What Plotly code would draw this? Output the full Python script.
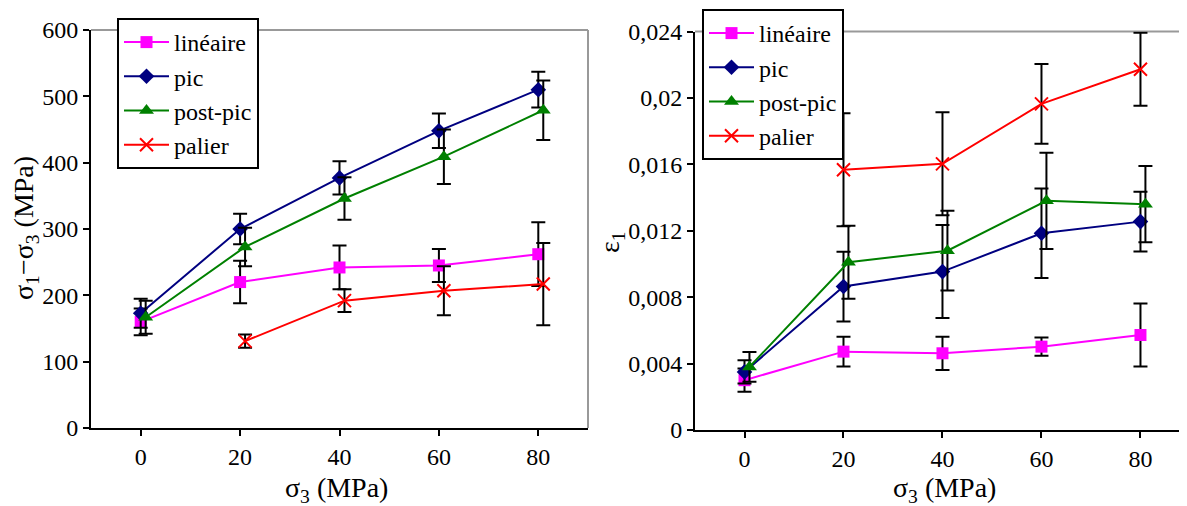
import plotly.graph_objects as go

# ---------------- data ----------------
series_names = ["linéaire", "pic", "post-pic", "palier"]

# Left chart: sigma1 - sigma3 (MPa) vs sigma3 (MPa)
L_lin_x = [0, 20, 40, 60, 80]
L_lin_y = [160, 220, 242, 245, 262]
L_lin_e = [20, 32, 33, 25, 48]

L_pic_x = [0, 20, 40, 60, 80]
L_pic_y = [173, 300, 377, 448, 510]
L_pic_e = [22, 23, 25, 26, 27]

L_post_x = [1, 21, 41, 61, 81]
L_post_y = [167, 273, 346, 409, 479]
L_post_e = [25, 29, 32, 41, 45]

L_pal_x = [21, 41, 61, 81]
L_pal_y = [131, 192, 207, 217]
L_pal_e = [10, 17, 37, 62]

# Right chart: epsilon1 vs sigma3 (MPa)
R_lin_x = [0, 20, 40, 60, 80]
R_lin_y = [0.0030, 0.00472, 0.00462, 0.00502, 0.00572]
R_lin_e = [0.0007, 0.0009, 0.0010, 0.00055, 0.0019]

R_pic_x = [0, 20, 40, 60, 80]
R_pic_y = [0.0035, 0.00864, 0.00954, 0.01185, 0.01255]
R_pic_e = [0.0007, 0.0021, 0.0028, 0.0027, 0.0018]

R_post_x = [1, 21, 41, 61, 81]
R_post_y = [0.0038, 0.0101, 0.0108, 0.0138, 0.0136]
R_post_e = [0.0009, 0.0022, 0.0024, 0.0029, 0.0023]

R_pal_x = [20, 40, 60, 80]
R_pal_y = [0.01567, 0.01603, 0.01964, 0.02173]
R_pal_e = [0.0034, 0.0031, 0.0024, 0.0022]

x_ticks = [0, 20, 40, 60, 80]
L_y_ticks = [0, 100, 200, 300, 400, 500, 600]
R_y_ticks = [0, 0.004, 0.008, 0.012, 0.016, 0.02, 0.024]
R_y_ticktext = ["0", "0,004", "0,008", "0,012", "0,016", "0,02", "0,024"]

# ---------------- styling ----------------
FONT = "Liberation Serif"
colors = ["#FF00FF", "#000080", "#008000", "#FF0000"]
symbols = ["square", "diamond", "triangle-up", "x-thin"]
sizes = [12, 12, 13, 13]

fig = go.Figure()

left_data = [(L_lin_x, L_lin_y, L_lin_e), (L_pic_x, L_pic_y, L_pic_e),
             (L_post_x, L_post_y, L_post_e), (L_pal_x, L_pal_y, L_pal_e)]
right_data = [(R_lin_x, R_lin_y, R_lin_e), (R_pic_x, R_pic_y, R_pic_e),
              (R_post_x, R_post_y, R_post_e), (R_pal_x, R_pal_y, R_pal_e)]


def add(data, xa, ya, legend):
    for i, (xs, ys, es) in enumerate(data):
        marker = dict(symbol=symbols[i], size=sizes[i], color=colors[i])
        if symbols[i] == "x-thin":
            marker["line"] = dict(color=colors[i], width=2)
        fig.add_trace(go.Scatter(
            x=xs, y=ys, mode="lines+markers", name=series_names[i],
            line=dict(color=colors[i], width=2), marker=marker,
            error_y=dict(type="data", array=es, visible=True, color="black",
                         thickness=2, width=7),
            xaxis=xa, yaxis=ya, legend=legend))


add(left_data, "x", "y", "legend")
add(right_data, "x2", "y2", "legend2")

# the page body adds an 8px offset: figure is sized so it fills the window
OFF = 8
W, H = 1187 - OFF, 506 - OFF


def px(x):
    return (x - OFF) / W


def py(y):
    return (H - (y - OFF)) / H


Lx0, Lx1 = px(91), px(588)
Ly0, Ly1 = py(428), py(30)
Rx0, Rx1 = px(695), 1.0
Ry0, Ry1 = py(430), py(31.5)

axis_common = dict(showline=True, linecolor="black", linewidth=2, ticks="outside",
                   tickcolor="black", tickwidth=2, ticklen=6, showgrid=False,
                   zeroline=False, automargin=False,
                   tickfont=dict(family=FONT, size=24, color="black"))

legend_common = dict(xanchor="left", yanchor="top", bgcolor="white",
                     bordercolor="black", borderwidth=2, itemwidth=45,
                     font=dict(family=FONT, size=24, color="black"), tracegroupgap=0)

fig.update_layout(
    width=W, height=H,
    margin=dict(l=0, r=0, t=0, b=0, autoexpand=False),
    paper_bgcolor="white", plot_bgcolor="white",
    font=dict(family=FONT, color="black"),
    xaxis=dict(domain=[Lx0, Lx1], anchor="y", range=[-10, 90], tickvals=x_ticks, **axis_common),
    yaxis=dict(domain=[Ly0, Ly1], anchor="x", range=[0, 600], tickvals=L_y_ticks, **axis_common),
    xaxis2=dict(domain=[Rx0, Rx1], anchor="y2", range=[-10, 89.4], tickvals=x_ticks, **axis_common),
    yaxis2=dict(domain=[Ry0, Ry1], anchor="x2", range=[0, 0.024], tickvals=R_y_ticks,
                ticktext=R_y_ticktext, **axis_common),
    legend=dict(x=px(117), y=py(18), **legend_common),
    legend2=dict(x=px(702), y=py(9), **legend_common),
    showlegend=True,
)

# gray top/right frame lines
fig.add_shape(type="line", xref="x domain", yref="y domain", x0=0, x1=1, y0=1, y1=1,
              line=dict(color="#999999", width=2), layer="below")
fig.add_shape(type="line", xref="x domain", yref="y domain", x0=1, x1=1, y0=0, y1=1,
              line=dict(color="#999999", width=2), layer="below")
fig.add_shape(type="line", xref="x2 domain", yref="y2 domain", x0=0, x1=1, y0=1, y1=1,
              line=dict(color="#999999", width=2), layer="below")

# axis titles
tfont = dict(family=FONT, size=28, color="black")
fig.add_annotation(text="σ<sub>3</sub> (MPa)", xref="paper", yref="paper",
                   x=px(336), y=py(489), showarrow=False, font=tfont,
                   xanchor="center", yanchor="middle")
fig.add_annotation(text="σ<sub>3</sub> (MPa)", xref="paper", yref="paper",
                   x=px(944), y=py(489), showarrow=False, font=tfont,
                   xanchor="center", yanchor="middle")
fig.add_annotation(text="σ<sub>1</sub>−σ<sub>3</sub> (MPa)", xref="paper", yref="paper",
                   x=px(25), y=py(228), showarrow=False, font=tfont, textangle=-90,
                   xanchor="center", yanchor="middle")
fig.add_annotation(text="ε<sub>1</sub>", xref="paper", yref="paper",
                   x=px(612), y=py(242), showarrow=False, font=tfont, textangle=-90,
                   xanchor="center", yanchor="middle")

fig.write_html("out.html")
